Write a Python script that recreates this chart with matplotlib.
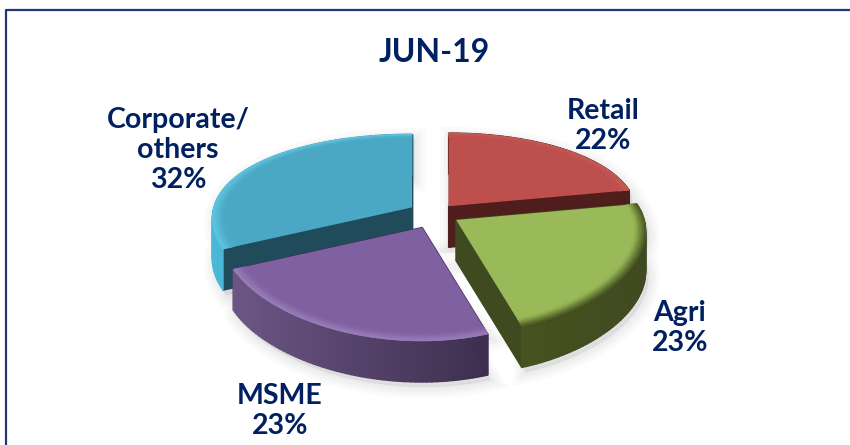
import numpy as np
import matplotlib
matplotlib.use("Agg")
import matplotlib.pyplot as plt
from matplotlib.patches import Polygon

categories = ["Retail", "Agri", "MSME", "Corporate/\nothers"]
shares = [22, 23, 23, 32]
title = "JUN-19"

top_colors = ["#bd4f4c", "#9aba59", "#7f60a0", "#4aa8c5"]
cut_colors = ["#4f1d1b", "#3f4a20", "#3f3050", "#204b5b"]
side_left = ["#5a2220", "#46521f", "#6c5685", "#4ab8d8"]
side_right = ["#4f1d1b", "#3f4a20", "#3d2e4e", "#3f9ab8"]
rim_colors = ["#c55c58", "#46521f", "#9c80bd", "#62c6e2"]
explode = [0.115, 0.13, 0.16, 0.14]
label_xy = [(603, 126), (680, 328), (280, 411), (178, 150)]
draw_order = [3, 0, 2, 1]

TEXT = "#002060"
CX, CY = 435, 214
RX_RIGHT, RX_LEFT, RY = 188, 198, 89
KX, KY = 0.12, 0.216
DEPTH = 41


def project(u, v):
    rx = np.where(np.asarray(u) >= 0, RX_RIGHT, RX_LEFT)
    return rx * u / (1 + KX * v), -RY * v / (1 + KY * v)


def mix(a, b, t):
    a, b = np.array(matplotlib.colors.to_rgb(a)), np.array(matplotlib.colors.to_rgb(b))
    return tuple(a + (b - a) * t)


def quad(ax, pts, color, z, lw=1.0):
    ax.add_patch(Polygon(pts, closed=True, facecolor=color, edgecolor=color, lw=lw, zorder=z))


fig = plt.figure(figsize=(8.5, 4.45), dpi=100)
ax = fig.add_axes([0, 0, 1, 1])
ax.set_xlim(0, 850)
ax.set_ylim(445, 0)
ax.axis("off")

# frame
ax.plot([6, 6, 850], [445, 9.5, 9.5], color="#1f3a70", lw=1.6, zorder=1)

edges = np.cumsum([0] + shares) / sum(shares) * 2 * np.pi

for n, i in enumerate(draw_order):
    z = 10 + n * 10
    mid = (edges[i] + edges[i + 1]) / 2
    ex, ey = project(explode[i] * np.sin(mid), explode[i] * np.cos(mid))
    tip = np.array([CX + ex, CY + ey])
    th = np.linspace(edges[i], edges[i + 1], 60)
    px, py = project(np.sin(th), np.cos(th))
    arc = np.column_stack([tip[0] + px, tip[1] + py])
    outline = np.vstack([tip, arc])
    down = np.array([0, DEPTH])

    # soft shadow
    hull = np.vstack([outline + down, arc[::-1]])
    for lw in [16, 11, 7, 3]:
        ax.add_patch(Polygon(hull + [3, 5], closed=True, facecolor="#808080",
                             edgecolor="#808080", lw=lw, alpha=0.035, zorder=2))

    # cut faces
    quad(ax, [tip, arc[0], arc[0] + down, tip + down], cut_colors[i], z)
    quad(ax, [tip, arc[-1], arc[-1] + down, tip + down], cut_colors[i], z)

    # outer wall, shaded left to right
    xmin, xmax = arc[:, 0].min(), arc[:, 0].max()
    for a, b in zip(arc[:-1], arc[1:]):
        t = ((a[0] + b[0]) / 2 - xmin) / max(xmax - xmin, 1)
        quad(ax, [a, b, b + down, a + down], mix(side_left[i], side_right[i], t), z + 1)

    # top face
    ax.add_patch(Polygon(outline, closed=True, facecolor=top_colors[i], edgecolor="none", zorder=z + 2))

    # bevel along the rim
    rings = np.linspace(1, 0.94, 8)
    for j, (r0, r1) in enumerate(zip(rings[:-1], rings[1:])):
        c = mix(rim_colors[i], top_colors[i], (j + 0.5) / 7)
        qx0, qy0 = project(r0 * np.sin(th), r0 * np.cos(th))
        qx1, qy1 = project(r1 * np.sin(th), r1 * np.cos(th))
        ring = np.vstack([np.column_stack([tip[0] + qx0, tip[1] + qy0]),
                          np.column_stack([tip[0] + qx1, tip[1] + qy1])[::-1]])
        quad(ax, ring, c, z + 3 + j * 0.01, lw=0.4)

font = dict(family=["Lato", "DejaVu Sans"], color=TEXT, fontweight="bold", ha="center", va="center")
ax.text(434, 52, title, fontsize=23, zorder=100, **font)
for cat, share, (x, y) in zip(categories, shares, label_xy):
    ax.text(x, y, f"{cat}\n{share}%", fontsize=20.5, linespacing=1.2, zorder=100, **font)

fig.savefig("out.png", dpi=100)
